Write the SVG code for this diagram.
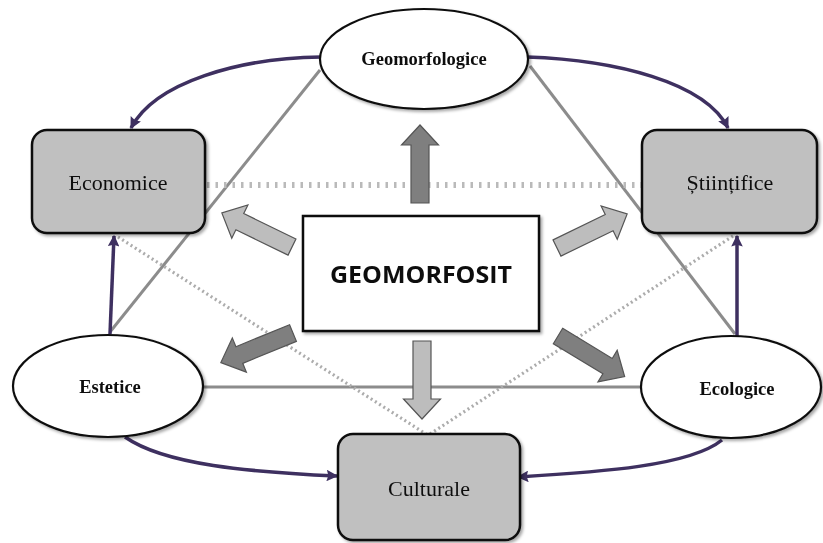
<svg xmlns="http://www.w3.org/2000/svg" width="823" height="543" viewBox="0 0 823 543">
<style>
.gl{stroke:#8c8c8c;stroke-width:3;fill:none}
.dh{stroke:#bababa;stroke-width:6;stroke-dasharray:2.5 6;fill:none}
.dd{stroke:#acacac;stroke-width:3.2;stroke-dasharray:2 3;fill:none}
.pl{stroke:#3e3060;stroke-width:3.5;fill:none;marker-end:url(#ah)}
.box{fill:#c0c0c0;stroke:#111;stroke-width:2.5}
.ell{fill:#fff;stroke:#111;stroke-width:2.2}
.ser{font-family:"Liberation Serif","Times New Roman",serif;fill:#111;text-anchor:middle}
.b{font-weight:bold;font-size:18.5px}
.r{font-size:22px}
.light{fill:#bdbdbd;stroke:#555;stroke-width:1.2}
.dark{fill:#7f7f7f;stroke:#555;stroke-width:1.2}
</style>
<defs>
<marker id="ah" viewBox="0 0 10 10" refX="9" refY="5" markerWidth="3.6" markerHeight="3.3" orient="auto" markerUnits="strokeWidth">
<path d="M0,0 L10,5 L0,10 L1.5,5 Z" fill="#3e3060"/>
</marker>
<path id="ba" d="M0,-9 L58,-9 L58,-18.5 L78,0 L58,18.5 L58,9 L0,9 Z"/>
<filter id="sh" x="-10%" y="-10%" width="130%" height="130%">
<feDropShadow dx="2" dy="2" stdDeviation="1.5" flood-color="#000" flood-opacity="0.35"/>
</filter>
</defs>
<rect width="823" height="543" fill="#fff"/>
<g id="connectors">
<line class="gl" x1="320" y1="70" x2="110" y2="332"/>
<line class="gl" x1="530" y1="66" x2="735" y2="334"/>
<line class="gl" x1="203" y1="387" x2="641" y2="387"/>
<line class="dh" x1="207" y1="185" x2="641" y2="185"/>
<line class="dd" x1="118" y1="237" x2="426" y2="434"/>
<line class="dd" x1="733" y1="236" x2="430" y2="434"/>
<path class="pl" d="M321,57 C240,58 155,82 131,128"/>
<path class="pl" d="M527,57 C615,60 705,82 728,128"/>
<path class="pl" d="M110,334 L114,236"/>
<path class="pl" d="M737,336 L737,236"/>
<path class="pl" d="M125,437 C165,465 250,472 337,476"/>
<path class="pl" d="M722,440 C690,466 600,472 518,477"/>
</g>
<g id="arrows">
<use href="#ba" class="dark" transform="translate(420,203) rotate(-90)"/>
<use href="#ba" class="light" transform="translate(422,341) rotate(90)"/>
<use href="#ba" class="light" transform="translate(292,247) rotate(205.9)"/>
<use href="#ba" class="light" transform="translate(557,248) rotate(-25.9)"/>
<use href="#ba" class="dark" transform="translate(293,333) rotate(157.7)"/>
<use href="#ba" class="dark" transform="translate(558,336) rotate(31.3)"/>
</g>
<g id="geomorfologice" filter="url(#sh)">
<ellipse class="ell" cx="424" cy="59" rx="104" ry="50"/>
<text class="ser b" x="424" y="65">Geomorfologice</text>
</g>
<g id="economice" filter="url(#sh)">
<rect class="box" x="32" y="130" width="173" height="103" rx="15"/>
<text class="ser r" x="118" y="190">Economice</text>
</g>
<g id="stiintifice" filter="url(#sh)">
<rect class="box" x="642" y="130" width="175" height="103" rx="15"/>
<text class="ser r" x="730" y="190">Științifice</text>
</g>
<g id="geomorfosit" filter="url(#sh)">
<rect x="303" y="216" width="236" height="115" fill="#fff" stroke="#111" stroke-width="2.5"/>
<text x="421" y="283" font-family="'Open Sans','Liberation Sans',sans-serif" font-weight="bold" font-size="23" text-anchor="middle" fill="#111" textLength="182" lengthAdjust="spacingAndGlyphs">GEOMORFOSIT</text>
</g>
<g id="estetice" filter="url(#sh)">
<ellipse class="ell" cx="108" cy="386" rx="95" ry="51"/>
<text class="ser b" x="110" y="393">Estetice</text>
</g>
<g id="ecologice" filter="url(#sh)">
<ellipse class="ell" cx="731" cy="387" rx="90" ry="51"/>
<text class="ser b" x="737" y="395">Ecologice</text>
</g>
<g id="culturale" filter="url(#sh)">
<rect class="box" x="338" y="434" width="182" height="106" rx="15"/>
<text class="ser r" x="429" y="496">Culturale</text>
</g>
</svg>
